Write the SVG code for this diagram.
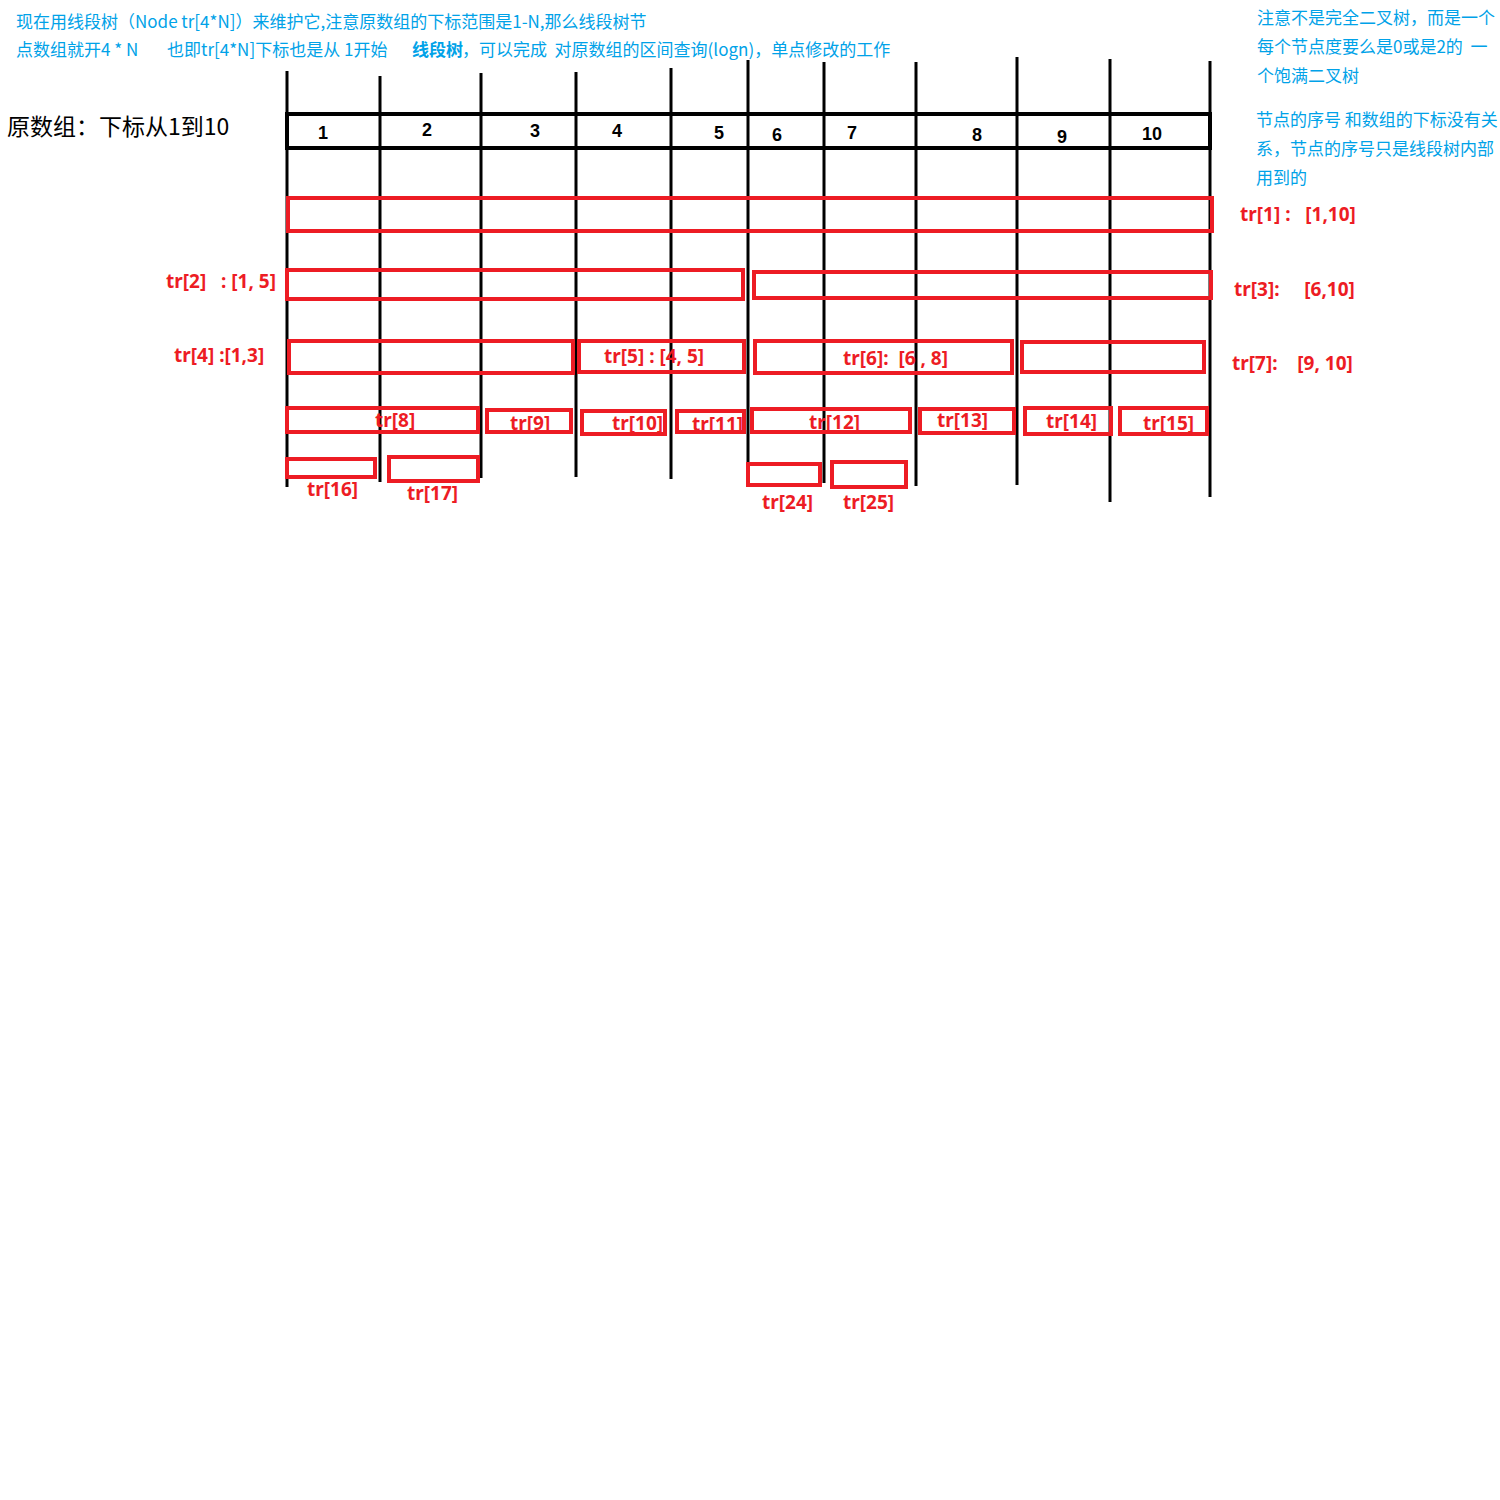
<svg xmlns="http://www.w3.org/2000/svg" width="1500" height="1500" viewBox="0 0 1500 1500" xml:space="preserve">
<style>
text{white-space:pre}
.bg{fill:#fff}
.vl{stroke:#000;stroke-width:3}
.arr{fill:none;stroke:#000;stroke-width:4}
.num{font-family:"Liberation Sans","Noto Sans",sans-serif;font-weight:bold;font-size:18px;fill:#000}
.seg{fill:none;stroke:#ED1C24;stroke-width:4}
.lbl{font-family:"Noto Sans","Liberation Sans",sans-serif;font-weight:bold;font-size:19px;fill:#ED1C24}
.note{font-family:"Noto Sans CJK SC","Noto Sans",sans-serif;font-size:17px;fill:#00A2E8}
.title{font-family:"Noto Sans CJK SC","Noto Sans",sans-serif;font-size:23px;fill:#000}
</style>
<rect class="bg" x="0" y="0" width="1500" height="1500"/>

<g id="notes">
<text class="note" x="16" y="28">现在用线段树（Node tr[4*N]）来维护它,注意原数组的下标范围是1-N,那么线段树节</text>
<text class="note" x="16" y="56">点数组就开4 * N</text>
<text class="note" x="167" y="56">也即tr[4*N]下标也是从 1开始</text>
<text class="note" x="412" y="56" font-weight="bold">线段树</text>
<text class="note" x="462" y="56">，可以完成  对原数组的区间查询(logn)，单点修改的工作</text>
<text class="note" x="1257" y="24">注意不是完全二叉树，而是一个</text>
<text class="note" x="1257" y="53">每个节点度要么是0或是2的  一</text>
<text class="note" x="1257" y="82">个饱满二叉树</text>
<text class="note" x="1256" y="126">节点的序号 和数组的下标没有关</text>
<text class="note" x="1256" y="155">系，节点的序号只是线段树内部</text>
<text class="note" x="1256" y="184">用到的</text>
<text class="title" x="7" y="135">原数组：下标从1到10</text>
</g>

<g id="connectors">
<line class="vl" x1="287" y1="71" x2="287" y2="487"/>
<line class="vl" x1="380" y1="76" x2="380" y2="482"/>
<line class="vl" x1="481" y1="73" x2="481" y2="478"/>
<line class="vl" x1="576" y1="72" x2="576" y2="477"/>
<line class="vl" x1="671" y1="68" x2="671" y2="479"/>
<line class="vl" x1="748" y1="60" x2="748" y2="487"/>
<line class="vl" x1="824" y1="62" x2="824" y2="483"/>
<line class="vl" x1="916" y1="62" x2="916" y2="486"/>
<line class="vl" x1="1017" y1="57" x2="1017" y2="485"/>
<line class="vl" x1="1110" y1="59" x2="1110" y2="502"/>
<line class="vl" x1="1210" y1="61" x2="1210" y2="497"/>
</g>

<g id="array">
<rect class="arr" x="287" y="114" width="923" height="34"/>
<text class="num" x="323" y="139" text-anchor="middle">1</text>
<text class="num" x="427" y="136" text-anchor="middle">2</text>
<text class="num" x="535" y="137" text-anchor="middle">3</text>
<text class="num" x="617" y="137" text-anchor="middle">4</text>
<text class="num" x="719" y="139" text-anchor="middle">5</text>
<text class="num" x="777" y="141" text-anchor="middle">6</text>
<text class="num" x="852" y="139" text-anchor="middle">7</text>
<text class="num" x="977" y="141" text-anchor="middle">8</text>
<text class="num" x="1062" y="143" text-anchor="middle">9</text>
<text class="num" x="1152" y="140" text-anchor="middle">10</text>
</g>

<g id="tr1"><rect class="seg" x="288" y="198" width="924" height="33"/><text class="lbl" x="1240" y="221">tr[1] :   [1,10]</text></g>
<g id="tr2"><rect class="seg" x="287" y="270" width="456" height="29"/><text class="lbl" x="166" y="288">tr[2]   : [1, 5]</text></g>
<g id="tr3"><rect class="seg" x="754" y="272" width="457" height="26"/><text class="lbl" x="1234" y="296">tr[3]:     [6,10]</text></g>
<g id="tr4"><rect class="seg" x="289" y="341" width="284" height="32"/><text class="lbl" x="174" y="362">tr[4] :[1,3]</text></g>
<g id="tr5"><rect class="seg" x="579" y="341" width="165" height="31"/><text class="lbl" x="604" y="363">tr[5] : [4, 5]</text></g>
<g id="tr6"><rect class="seg" x="755" y="341" width="257" height="32"/><text class="lbl" x="843" y="365">tr[6]:  [6 , 8]</text></g>
<g id="tr7"><rect class="seg" x="1022" y="342" width="182" height="30"/><text class="lbl" x="1232" y="370">tr[7]:    [9, 10]</text></g>
<g id="tr8"><text class="lbl" x="375" y="427">tr[8]</text><rect class="seg" x="287" y="408" width="191" height="24"/></g>
<g id="tr9"><text class="lbl" x="510" y="430">tr[9]</text><rect class="seg" x="487" y="410" width="84" height="22"/></g>
<g id="tr10"><text class="lbl" x="612" y="430">tr[10]</text><rect class="seg" x="582" y="411" width="83" height="23"/></g>
<g id="tr11"><text class="lbl" x="692" y="431">tr[11]</text><rect class="seg" x="677" y="411" width="67" height="21"/></g>
<g id="tr12"><text class="lbl" x="809" y="429">tr[12]</text><rect class="seg" x="752" y="409" width="158" height="23"/></g>
<g id="tr13"><text class="lbl" x="937" y="427">tr[13]</text><rect class="seg" x="920" y="409" width="94" height="24"/></g>
<g id="tr14"><text class="lbl" x="1046" y="428">tr[14]</text><rect class="seg" x="1025" y="408" width="86" height="26"/></g>
<g id="tr15"><text class="lbl" x="1143" y="430">tr[15]</text><rect class="seg" x="1120" y="408" width="87" height="26"/></g>
<g id="tr16"><rect class="seg" x="287" y="459" width="88" height="18"/><text class="lbl" x="307" y="496">tr[16]</text></g>
<g id="tr17"><rect class="seg" x="389" y="457" width="89" height="24"/><text class="lbl" x="407" y="500">tr[17]</text></g>
<g id="tr24"><rect class="seg" x="748" y="464" width="72" height="21"/><text class="lbl" x="762" y="509">tr[24]</text></g>
<g id="tr25"><rect class="seg" x="832" y="462" width="74" height="25"/><text class="lbl" x="843" y="509">tr[25]</text></g>
</svg>
